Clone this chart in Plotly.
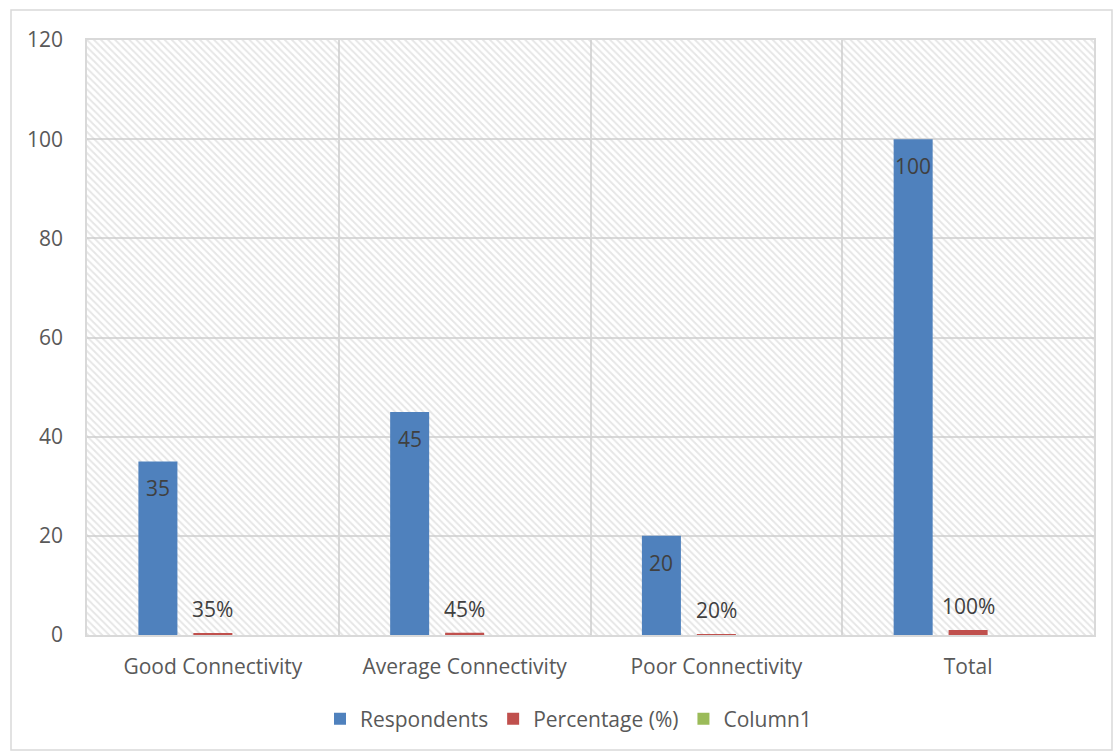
import plotly.graph_objects as go

categories = ["Good Connectivity", "Average Connectivity", "Poor Connectivity", "Total"]
respondents = [35, 45, 20, 100]
percentage = [0.35, 0.45, 0.20, 1.00]
column1 = [0, 0, 0, 0]
y_ticks = [0, 20, 40, 60, 80, 100, 120]

FONT = "Open Sans"
FS = 21
TICK_COLOR = "#595959"
LABEL_COLOR = "#404040"
GRID = "#d9d9d9"

W, H = 1117, 753
L, R, T, B = 87, 23, 40, 118
pw, ph = W - L - R, H - T - B
BARGAP, GROUPGAP = 0.345, 0.29
slot_px = (pw / len(categories)) * (1 - BARGAP) / 3  # width of one bar slot in a group


def px_x(p):
    return (p - L) / pw


def px_y(p):
    return (H - B - p) / ph


fig = go.Figure()

# hatched background of the plot area (on the main, hidden axis so it sits below the bars)
fig.add_trace(go.Bar(
    x=[0.5], y=[y_ticks[-1]], width=[1.0], xaxis="x", yaxis="y",
    marker=dict(color="rgba(0,0,0,0)", line=dict(width=0),
                pattern=dict(shape="\\", fgcolor="#cdcdcd", bgcolor="rgba(0,0,0,0)",
                             size=5, solidity=0.38)),
    showlegend=False, hoverinfo="skip",
))

fig.add_trace(go.Bar(
    name="Respondents", x=categories, y=respondents, xaxis="x2", yaxis="y",
    marker=dict(color="#4F81BD", line=dict(width=0)),
))
fig.add_trace(go.Bar(
    name="Percentage (%)", x=categories, y=percentage, xaxis="x2", yaxis="y",
    marker=dict(color="#C0504D", line=dict(width=0)),
))
fig.add_trace(go.Bar(
    name="Column1", x=categories, y=column1, xaxis="x2", yaxis="y",
    marker=dict(color="#9BBB59", line=dict(width=0)),
))

annotations = []
for c, v in zip(categories, respondents):
    annotations.append(dict(
        x=c, y=v, xref="x2", yref="y", text=str(v), showarrow=False,
        xanchor="center", yanchor="middle", xshift=-slot_px, yshift=-27,
        font=dict(family=FONT, size=FS, color=LABEL_COLOR)))
for c, v in zip(categories, percentage):
    annotations.append(dict(
        x=c, y=v, xref="x2", yref="y", text=f"{round(v*100)}%", showarrow=False,
        yanchor="bottom", yshift=8, font=dict(family=FONT, size=FS, color=LABEL_COLOR)))

fig.update_layout(
    width=W, height=H,
    margin=dict(l=L, r=R, t=T, b=B),
    paper_bgcolor="white", plot_bgcolor="white",
    barmode="group", bargap=BARGAP, bargroupgap=GROUPGAP,
    font=dict(family=FONT, size=FS, color=TICK_COLOR),
    xaxis=dict(range=[0, 1], visible=False, showgrid=False, fixedrange=True),
    xaxis2=dict(type="category", overlaying="x", side="bottom", tickson="boundaries",
                showgrid=True, gridcolor=GRID, gridwidth=1.5, ticks="",
                showline=True, linecolor=GRID, linewidth=1.5, mirror=True,
                tickfont=dict(family=FONT, size=FS, color=TICK_COLOR), ticklabelstandoff=12),
    yaxis=dict(range=[0, 120], tickvals=y_ticks, showgrid=True, gridcolor=GRID, gridwidth=1.5,
               zeroline=False, showline=True, linecolor=GRID, linewidth=1.5, mirror=True,
               ticks="", ticklabelstandoff=18,
               tickfont=dict(family=FONT, size=FS, color=TICK_COLOR)),
    legend=dict(orientation="h", x=0.5 - 22 / pw, xanchor="center", y=px_y(719), yanchor="middle",
                font=dict(family=FONT, size=FS, color=TICK_COLOR), itemwidth=30,
                traceorder="normal", bgcolor="rgba(0,0,0,0)"),
    annotations=annotations,
    shapes=[dict(type="rect", xref="paper", yref="paper",
                 x0=px_x(11), x1=px_x(1112), y0=px_y(750), y1=px_y(10),
                 line=dict(color=GRID, width=1.5), fillcolor="rgba(0,0,0,0)", layer="below")],
)

fig.write_html("out.html")
